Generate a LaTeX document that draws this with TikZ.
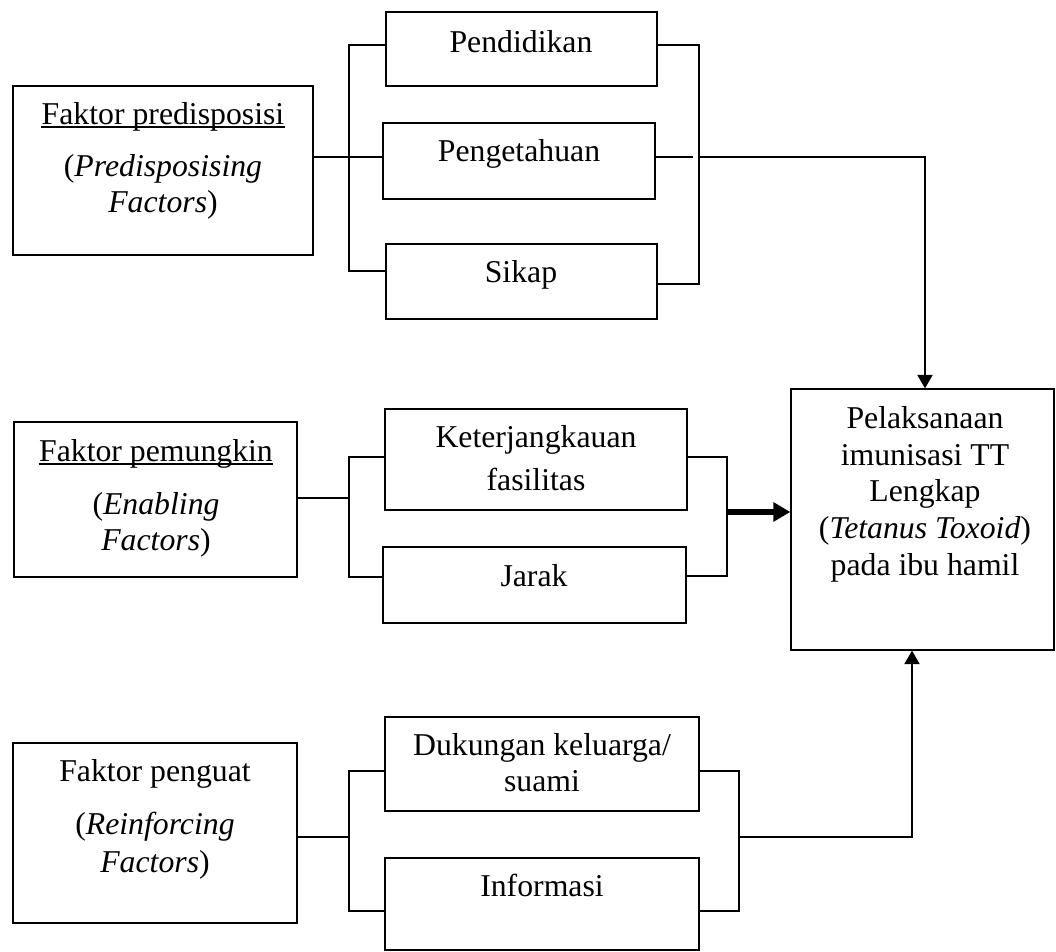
\documentclass[tikz,border=0pt]{standalone}
\usepackage{fontspec}
\setmainfont{Liberation Serif}
\usetikzlibrary{arrows.meta,fit}
\begin{document}
\begin{tikzpicture}[x=0.4pt,y=-0.4pt,
  box/.style={draw, line width=0.5pt, inner sep=0pt},
  conn/.style={line width=0.85pt},
  txt/.style={anchor=base, inner sep=0pt, font=\fontsize{12.7}{15}\selectfont},
  uline/.style={line width=0.65pt},
  tip/.style={-{Triangle[width=6pt,length=5.4pt]}},
  bigtip/.style={line width=2.4pt,-{Triangle[width=7.4pt,length=6.8pt]}}
]
\useasboundingbox (0,0) rectangle (1056,952);

% boxes
\node[box, fit={(13,86) (313,255)}] (fp) {};
\node[box, fit={(386,12) (657,86)}] (pd) {};
\node[box, fit={(383,123) (655,199)}] (pg) {};
\node[box, fit={(386,244) (657,319)}] (sk) {};
\node[box, fit={(14,422) (297,577)}] (fm) {};
\node[box, fit={(385,409) (687,510)}] (kf) {};
\node[box, fit={(383,547) (686,623)}] (jr) {};
\node[box, fit={(791,389) (1054,650)}] (pel) {};
\node[box, fit={(13,743) (297,923)}] (fg) {};
\node[box, fit={(385,717) (699,811)}] (dk) {};
\node[box, fit={(385,858) (699,950)}] (inf) {};

% texts
\node[txt] (fp1) at (163,125) {Faktor predisposisi};
\draw[uline] ([yshift=-0.9pt]fp1.base west) -- ([yshift=-0.9pt]fp1.base east);
\node[txt] (fp2) at (163,177) {(\textit{Predisposising}};
\node[txt] (fp3) at (163,213) {\textit{Factors})};

\node[txt] (fm1) at (156,462) {Faktor pemungkin};
\draw[uline] ([yshift=-0.9pt]fm1.base west) -- ([yshift=-0.9pt]fm1.base east);
\node[txt] (fm2) at (156,515) {(\textit{Enabling}};
\node[txt] (fm3) at (156,551) {\textit{Factors})};

\node[txt] (fg1) at (155,782) {Faktor penguat};
\node[txt] (fg2) at (155,835) {(\textit{Reinforcing}};
\node[txt] (fg3) at (155,873) {\textit{Factors})};

\node[txt] (pdt) at (521,53) {Pendidikan};
\node[txt] (pgt) at (519,162) {Pengetahuan};
\node[txt] (skt) at (521,283) {Sikap};
\node[txt] (kf1) at (536,448) {Keterjangkauan};
\node[txt] (kf2) at (536,491) {fasilitas};
\node[txt] (jrt) at (534,587) {Jarak};
\node[txt] (dk1) at (542,756) {Dukungan keluarga/};
\node[txt] (dk2) at (542,792) {suami};
\node[txt] (inft) at (542,897) {Informasi};

\node[txt] (p1) at (925,429) {Pelaksanaan};
\node[txt] (p2) at (925,466) {imunisasi TT};
\node[txt] (p3) at (925,502) {Lengkap};
\node[txt] (p4) at (925,539) {(\textit{Tetanus Toxoid})};
\node[txt] (p5) at (925,576) {pada ibu hamil};

% bus coordinates
\coordinate (la) at (349,0);
\coordinate (ra) at (699,0);
\coordinate (ragap) at (693,157);
\coordinate (rb) at (727,0);
\coordinate (rc) at (739,0);
\coordinate (ta) at (925,0);
\coordinate (tb) at (912,0);

% group 1
\draw[conn] (fp.east |- 0,157) -- (pg.west |- 0,157);
\draw[conn] (pd.west |- 0,45) -- (la |- 0,45) -- (la |- 0,271) -- (sk.west |- 0,271);
\draw[conn] (pd.east |- 0,45) -- (ra |- 0,45) -- (ra |- 0,284) -- (sk.east |- 0,284);
\draw[conn] (pg.east |- ragap) -- (ragap);
\draw[conn,tip] (ra |- 0,157) -- (ta |- 0,157) -- (ta |- pel.north);

% group 2
\draw[conn] (fm.east |- 0,498) -- (la |- 0,498);
\draw[conn] (kf.west |- 0,457) -- (la |- 0,457) -- (la |- 0,577) -- (jr.west |- 0,577);
\draw[conn] (kf.east |- 0,457) -- (rb |- 0,457) -- (rb |- 0,576) -- (jr.east |- 0,576);
\draw[bigtip] (rb |- 0,512) -- (pel.west |- 0,512);

% group 3
\draw[conn] (fg.east |- 0,837) -- (la |- 0,837);
\draw[conn] (dk.west |- 0,771) -- (la |- 0,771) -- (la |- 0,911) -- (inf.west |- 0,911);
\draw[conn] (dk.east |- 0,771) -- (rc |- 0,771) -- (rc |- 0,911) -- (inf.east |- 0,911);
\draw[conn,tip] (rc |- 0,837) -- (tb |- 0,837) -- (tb |- pel.south);
\end{tikzpicture}
\end{document}
